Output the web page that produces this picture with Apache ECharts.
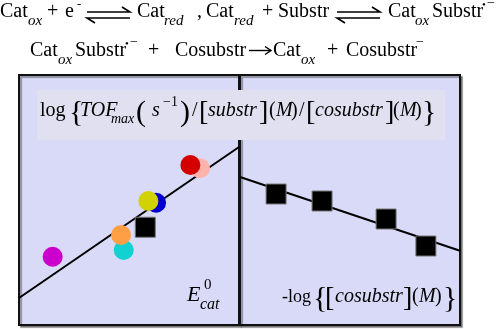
<!DOCTYPE html>
<html><head><meta charset="utf-8">
<script src="https://cdn.jsdelivr.net/npm/echarts@6/dist/echarts.min.js"></script>
<style>html,body{margin:0;padding:0;background:#fff}#c{width:500px;height:329px}</style>
</head><body><div id="c"></div>
<script>
// ---- data (arbitrary units) ----
var leftX  = [1.53, 4.76, 4.64, 8.23, 7.79, 6.23, 5.88];
var leftY  = [2.73, 3.00, 3.60, 6.27, 6.40, 4.89, 4.96];
var pointColors = ['#cc00cc', '#11d2d0', '#ff9f45', '#ffb3aa', '#d40000', '#0000cc', '#d2d200'];
var leftSquareX = [5.74];
var leftSquareY = [3.91];
var leftLineX = [0, 10];
var leftLineY = [1.08, 7.12];
var rightX = [1.64, 3.73, 6.64, 8.45];
var rightY = [5.24, 4.96, 4.24, 3.16];
var rightLineX = [0, 10];
var rightLineY = [5.92, 2.97];

function pairs(xs, ys){ return xs.map(function(x,i){ return [x, ys[i]]; }); }

var SERIF = '"Liberation Serif", "Times New Roman", serif';
function tok(text, x, base, size, italic){
  return {type:'text', z:20, style:{text:text, x:x, y:base - 0.3375*size,
    font:(italic?'italic ':'') + size + 'px ' + SERIF, fill:'#000', verticalAlign:'middle', align:'left'}};
}
function eqArrows(x1, x2, y1, y2){
  var s = {stroke:'#000', lineWidth:1.6, fill:null};
  return [
    {type:'polyline', z:20, shape:{points:[[x1,y1],[x2,y1],[x2-8,y1-5]]}, style:s},
    {type:'polyline', z:20, shape:{points:[[x2,y2],[x1,y2],[x1+8,y2+5]]}, style:s}
  ];
}

var g = [];
// header line 1
var b1 = 18;
g.push(tok('Cat',0,b1,20), tok('ox',28,b1+8,15,true), tok('+',47,b1,20), tok('e',65,b1,20), tok('-',77,b1-9,13));
g = g.concat(eqArrows(87,130,12,18));
g.push(tok('Cat',137,b1,20), tok('red',164,b1+8,15,true), tok(',',197,b1,20), tok('Cat',206,b1,20), tok('red',234,b1+8,15,true),
       tok('+',262,b1,20), tok('Substr',278,b1,20));
g = g.concat(eqArrows(337,380,12,18));
g.push(tok('Cat',388,b1,20), tok('ox',415,b1+8,15,true), tok('Substr',432,b1,20), tok('\u2022',482,b1-9,11), tok('\u2212',487,b1-10,14));
// header line 2
var b2 = 57;
g.push(tok('Cat',30,b2,20), tok('ox',58,b2+8,15,true), tok('Substr',75,b2,20), tok('\u2022',125,b2-9,11), tok('\u2212',130,b2-10,14),
       tok('+',148,b2,20), tok('Cosubstr',175,b2,20), tok('Cat',273,b2,20), tok('ox',301,b2+8,15,true),
       tok('+',327,b2,20), tok('Cosubstr',346,b2,20), tok('\u2212',416,b2-10,14));
g.push({type:'polyline', z:20, shape:{points:[[249,50.5],[271,50.5]]}, style:{stroke:'#000', lineWidth:1.4}});
g.push({type:'polyline', z:20, shape:{points:[[265,46.5],[271,50.5],[265,54.5]]}, style:{stroke:'#000', lineWidth:1.4, fill:null}});
// title band
g.push({type:'rect', z:15, shape:{x:37,y:90,width:408,height:50}, style:{fill:'#e0e0f1'}});
var bt = 117;
g.push(tok('log',40,bt,20), tok('{',69,bt+6,30), tok('TOF',80,bt,20,true), tok('max',111,bt+7,14,true),
       tok('(',136,bt+6,30), tok('s',152,bt,20,true), tok('\u22121',163,bt-10,14), tok(')',180,bt+6,30),
       tok('/',192,bt,20), tok('[',199,bt+5,28), tok('substr',208,bt,20,true), tok(']',259,bt+5,28),
       tok('(',269,bt,20), tok('M',276,bt,20,true), tok(')',291,bt,20),
       tok('/',299,bt,20), tok('[',306,bt+5,28), tok('cosubstr',315,bt,20,true), tok(']',385,bt+5,28),
       tok('(',393,bt,20), tok('M',400,bt,20,true), tok(')',415,bt,20), tok('}',422,bt+6,30));
// axis captions
g.push(tok('E',187,303,22,true), tok('0',204,290,15), tok('cat',200,310,16,true));
var bc = 303;
g.push(tok('-log',282,bc,18), tok('{',313,bc+6,30), tok('[',325,bc+5,28), tok('cosubstr',335,bc,20,true), tok(']',403,bc+5,28),
       tok('(',412,bc,20), tok('M',419,bc,20,true), tok(')',435,bc,20), tok('}',443,bc+6,30));

var gridStyle = {show:true, backgroundColor:'#d9d9f8', borderColor:'#111', borderWidth:2,
  shadowColor:'rgba(0,0,0,0.35)', shadowOffsetX:2, shadowOffsetY:2, shadowBlur:1};
function ax(i){ return {gridIndex:i, type:'value', min:0, max:10, show:false}; }
var squareStyle = {color:'#000', borderColor:'#777', borderWidth:1, opacity:1};

var chart = echarts.init(document.getElementById('c'), null, {renderer:'canvas'});
chart.setOption({
  animation:false,
  grid:[Object.assign({left:19, top:75, width:220, height:250}, gridStyle),
        Object.assign({left:240, top:75, width:220, height:250}, gridStyle)],
  xAxis:[ax(0), ax(1)],
  yAxis:[ax(0), ax(1)],
  series:[
    {type:'line', xAxisIndex:0, yAxisIndex:0, data:pairs(leftLineX,leftLineY), symbol:'none', z:2,
     lineStyle:{color:'#000', width:2}},
    {type:'scatter', xAxisIndex:0, yAxisIndex:0, data:pairs(leftSquareX,leftSquareY), symbol:'rect', symbolSize:20, z:3,
     itemStyle:squareStyle},
    {type:'scatter', xAxisIndex:0, yAxisIndex:0, z:4, symbolSize:20,
     data:pairs(leftX,leftY).map(function(p,i){ return {value:p, itemStyle:{color:pointColors[i], opacity:1}}; })},
    {type:'line', xAxisIndex:1, yAxisIndex:1, data:pairs(rightLineX,rightLineY), symbol:'none', z:2,
     lineStyle:{color:'#000', width:2}},
    {type:'scatter', xAxisIndex:1, yAxisIndex:1, data:pairs(rightX,rightY), symbol:'rect', symbolSize:20, z:3,
     itemStyle:squareStyle}
  ],
  graphic:g
});
</script></body></html>
